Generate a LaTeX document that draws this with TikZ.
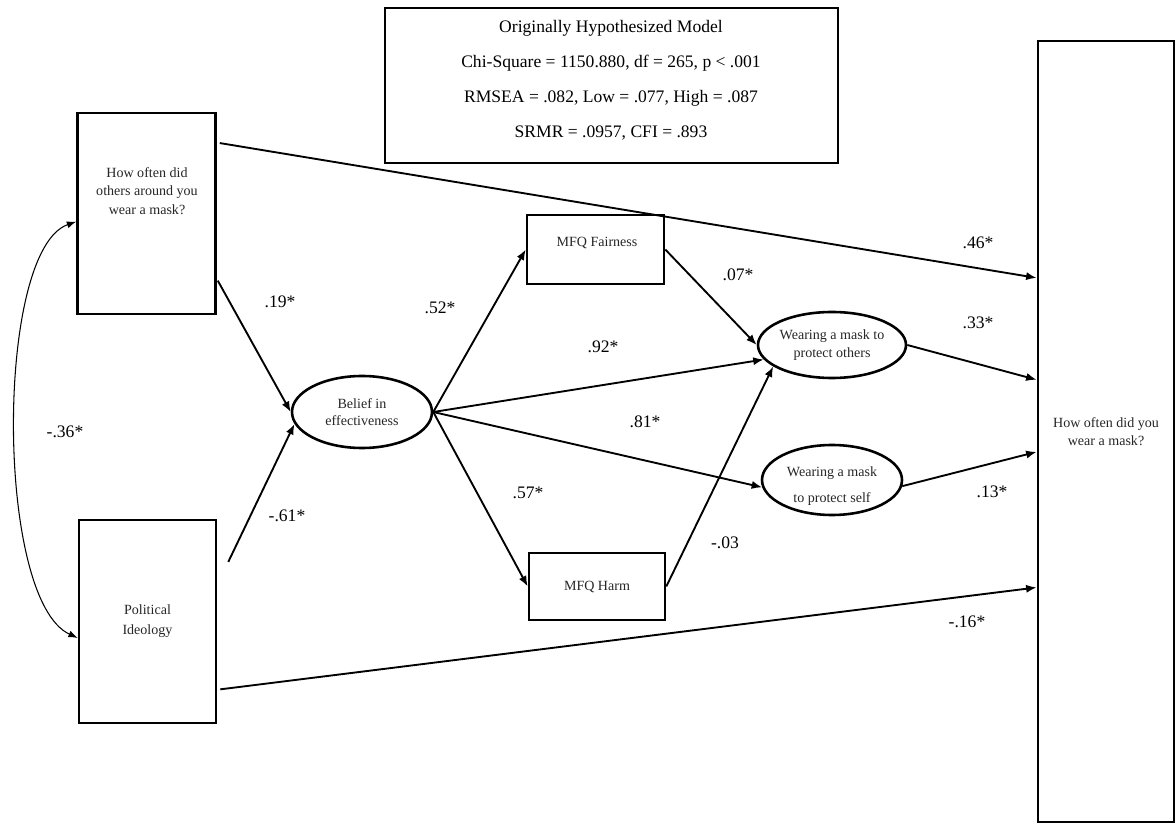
\documentclass[tikz,border=0pt]{standalone}
\usepackage{fontspec}
\setmainfont{Liberation Serif}
\usetikzlibrary{arrows.meta,shapes.geometric,calc}
\begin{document}
\begin{tikzpicture}[x=0.03cm,y=-0.03cm,
  box/.style={draw, line width=2.2pt, inner sep=0pt},
  oval/.style={draw, ellipse, line width=2.2pt, inner sep=0pt},
  lbl/.style={align=center, text=black!85, font=\fontsize{12}{15}\selectfont},
  coef/.style={font=\fontsize{15}{15}\selectfont},
  arr/.style={line width=1.6pt, -{Latex[length=9pt,width=7pt]}},
  corr/.style={line width=0.9pt, {Latex[length=8pt,width=6pt]}-{Latex[length=8pt,width=6pt]}}]
\useasboundingbox (0,0) rectangle (1176,825);

% fit statistics panel
\node[box, line width=1.6pt, minimum width=453*0.03cm, minimum height=155*0.03cm] (fit) at (611.5,85.5) {};
\node[align=center, font=\fontsize{15}{30}\selectfont] (fitstats) at (611,80)
  {Originally Hypothesized Model\\Chi-Square = 1150.880, df = 265, p < .001\\RMSEA = .082, Low = .077, High = .087\\SRMR = .0957, CFI = .893};

% observed predictors
\node[box, minimum width=138*0.03cm, minimum height=201*0.03cm] (others) at (146.5,213.5) {};
\node[lbl, font=\fontsize{12}{15.5}\selectfont] (otherstext) at (147,191) {How often did\\others around you\\wear a mask?};
\node[box, lbl, font=\fontsize{12}{17}\selectfont, minimum width=137*0.03cm, minimum height=203*0.03cm] (ideology) at (147.5,621.5) {Political\\Ideology};

% outcome
\node[box, lbl, line width=2.3pt, minimum width=136*0.03cm, minimum height=781*0.03cm] (outcome) at (1106,431.5) {How often did you\\wear a mask?};

% mediators
\node[oval, lbl, minimum width=140*0.03cm, minimum height=72*0.03cm] (belief) at (362,412) {Belief in\\effectiveness};
\node[box, minimum width=137*0.03cm, minimum height=69*0.03cm] (fairness) at (595.5,249.5) {};
\node[lbl] (fairnesstext) at (597,243) {MFQ Fairness};
\node[box, lbl, minimum width=136*0.03cm, minimum height=67*0.03cm] (harm) at (597,586.5) {MFQ Harm};
\node[oval, lbl, minimum width=140*0.03cm, minimum height=66*0.03cm] (protothers) at (832,345) {Wearing a mask to\\protect others};
\node[oval, minimum width=140*0.03cm, minimum height=70*0.03cm] (protself) at (832,480) {};
\node[lbl, font=\fontsize{12}{22}\selectfont] (protselftext) at (832,486) {Wearing a mask\\to protect self};

% covariance between predictors
\draw[corr] ($(others.north west)!0.54!(others.south west)$) .. controls (-5,250) and (-5,600) .. ($(ideology.north west)!0.58!(ideology.south west)$);

% paths
\draw[arr] ($(others.north east)!0.154!(others.south east)+(3,0)$) -- ($(outcome.north west)!0.304!(outcome.south west)$);
\draw[arr] ($(others.north east)!0.83!(others.south east)+(1,0)$) -- (belief.west);
\draw[arr] ($(ideology.north east)!0.21!(ideology.south east)+(11,0)$) -- (belief.190);
\draw[arr] ($(ideology.north east)!0.83!(ideology.south east)+(3,0)$) -- ($(outcome.north west)!0.699!(outcome.south west)$);
\draw[arr] (belief.east) -- (fairness.west);
\draw[arr] (belief.east) -- (protothers.192);
\draw[arr] (belief.east) -- (protself.186);
\draw[arr] (belief.east) -- (harm.west);
\draw[arr] (fairness.east) -- (protothers.west);
\draw[arr] (harm.east) -- (protothers.200);
\draw[arr] (protothers.east) -- ($(outcome.north west)!0.434!(outcome.south west)$);
\draw[arr] (protself.355) -- ($(outcome.north west)!0.526!(outcome.south west)$);

% path coefficients
\node[coef] (c46) at (978,243) {.46*};
\node[coef] (c33) at (978,323) {.33*};
\node[coef] (c13) at (992,492) {.13*};
\node[coef] (c16) at (967,622) {-.16*};
\node[coef] (c07) at (738,275) {.07*};
\node[coef] (c92) at (603,347) {.92*};
\node[coef] (c81) at (645,422) {.81*};
\node[coef] (c52) at (440,308) {.52*};
\node[coef] (c57) at (528,493) {.57*};
\node[coef] (c03) at (725,543) {-.03};
\node[coef] (c19) at (280,302) {.19*};
\node[coef] (c61) at (287,516) {-.61*};
\node[coef] (c36) at (65,432) {-.36*};
\end{tikzpicture}
\end{document}
